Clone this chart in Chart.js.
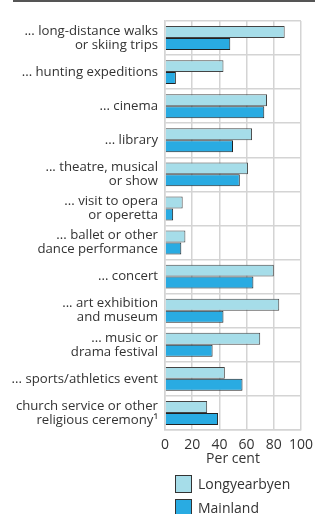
<!DOCTYPE html>
<html>
<head>
<meta charset="utf-8">
<script src="https://cdn.jsdelivr.net/npm/chart.js@4.4.1/dist/chart.umd.min.js"></script>
<style>
  html, body { margin: 0; padding: 0; background: #fff; }
  body { width: 317px; height: 514px; position: relative; overflow: hidden; font-family: "Open Sans", sans-serif; color: #333; }
  #topline { position: absolute; left: 13px; top: 0; width: 302px; height: 2px; background: #555; }
  #wrap { position: absolute; left: 0; top: 0; width: 317px; height: 514px; }
  .legend { position: absolute; left: 175px; font-size: 14px; line-height: 17px; }
  .legend div { display: flex; align-items: center; height: 17px; margin-bottom: 7px; }
  .legend span.box { width: 15px; height: 16px; border: 1px solid #333; margin-right: 6px; box-sizing: content-box; }
</style>
</head>
<body>
<div id="topline"></div>
<div id="wrap"><canvas id="leisureChart"></canvas></div>
<div class="legend" id="legend" style="top:475px"></div>
<script>
const categories = [
    ['... long-distance walks', 'or skiing trips'],
    '... hunting expeditions',
    '... cinema',
    '... library',
    ['... theatre, musical', 'or show'],
    ['... visit to opera', 'or operetta'],
    ['... ballet or other', 'dance performance'],
    '... concert',
    ['... art exhibition', 'and museum'],
    ['... music or', 'drama festival'],
    '... sports/athletics event',
    ['church service or other', 'religious ceremony\u00b9']
];
const longyearbyen = [88, 43, 75, 64, 61, 13, 15, 80, 84, 70, 44, 31];
const mainland = [48, 8, 73, 50, 55, 6, 12, 65, 43, 35, 57, 39];
const xTicks = [0, 20, 40, 60, 80, 100];

const seriesNames = ['Longyearbyen', 'Mainland'];
const seriesColors = ['#a6dde9', '#29abe2'];

document.addEventListener('DOMContentLoaded', function () {
    const ctx = document.getElementById('leisureChart').getContext('2d');
    Chart.defaults.font.family = '"Open Sans", sans-serif';
    Chart.defaults.color = '#333';

    new Chart(ctx, {
        type: 'bar',
        data: {
            labels: categories,
            datasets: [
                {
                    label: seriesNames[0],
                    data: longyearbyen,
                    backgroundColor: seriesColors[0],
                    borderColor: '#444',
                    borderWidth: 1
                },
                {
                    label: seriesNames[1],
                    data: mainland,
                    backgroundColor: seriesColors[1],
                    borderColor: '#222',
                    borderWidth: 1
                }
            ]
        },
        options: {
            indexAxis: 'y',
            responsive: true,
            maintainAspectRatio: false,
            animation: false,
            datasets: {
                bar: { categoryPercentage: 0.7, barPercentage: 1.0 }
            },
            layout: { padding: { top: 13, right: 16, bottom: 46, left: 0 } },
            plugins: {
                legend: { display: false },
                tooltip: { enabled: false }
            },
            scales: {
                x: {
                    min: 0,
                    max: 100,
                    afterBuildTicks: function (scale) {
                        scale.ticks = xTicks.map(v => ({ value: v }));
                    },
                    afterFit: function (scale) {
                        scale.height = 38;
                        scale.paddingRight = 0;
                        scale.paddingLeft = 0;
                    },
                    grid: { color: '#d4d4d4', lineWidth: 1.5, drawTicks: false },
                    border: { color: '#d4d4d4', width: 1.5 },
                    ticks: { font: { size: 14 }, padding: 7, color: '#333', maxRotation: 0, minRotation: 0, autoSkip: false },
                    title: { display: true, text: 'Per cent', font: { size: 14 }, color: '#333', padding: { top: 0, bottom: 1 } }
                },
                y: {
                    afterFit: function (scale) { scale.width = 165; },
                    grid: { color: '#d4d4d4', lineWidth: 1.5, drawTicks: false, offset: true },
                    border: { color: '#d4d4d4', width: 1.5 },
                    ticks: { font: { size: 13.2, lineHeight: 1.06 }, padding: 7, color: '#333' }
                }
            }
        }
    });

    const legend = document.getElementById('legend');
    seriesNames.forEach(function (name, i) {
        const row = document.createElement('div');
        row.innerHTML = '<span class="box" style="background:' + seriesColors[i] + '"></span>' + name;
        legend.appendChild(row);
    });
});
</script>
</body>
</html>
